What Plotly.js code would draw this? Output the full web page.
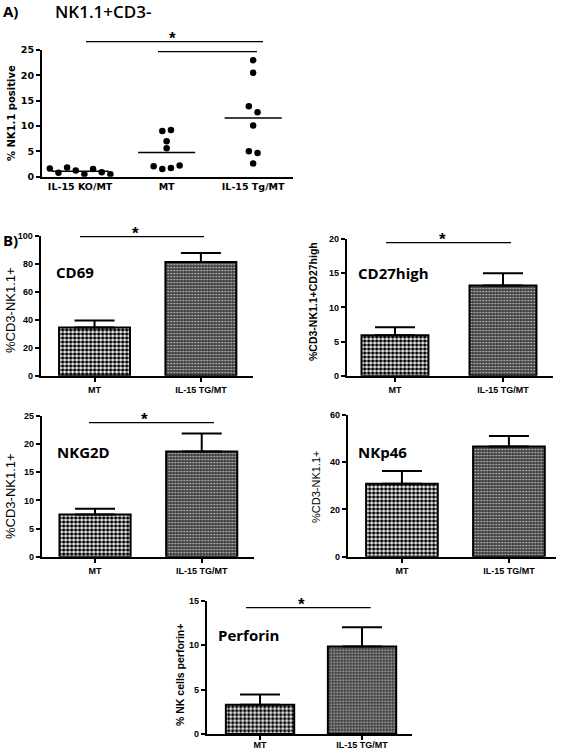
<!DOCTYPE html>
<html><head><meta charset="utf-8">
<script src="https://cdn.plot.ly/plotly-3.0.1.min.js"></script>
<style>html,body{margin:0;padding:0;background:#fff}</style>
</head><body><div id="chart" style="width:564px;height:753px"></div>
<script>
// ---------- DATA ----------
const groupsA = ['IL-15 KO/MT', 'MT', 'IL-15 Tg/MT'];
const koValues = [1.6, 0.8, 1.8, 1.2, 0.5, 1.5, 0.9, 0.5];
const mtValues = [9.0, 9.2, 7.0, 5.6, 2.05, 1.5, 1.7, 2.2];
const tgValues = [23.0, 20.5, 13.9, 12.7, 10.1, 5.0, 4.7, 2.6];

const barCats = ['MT', 'IL-15 TG/MT'];
const cd69Mean = [34.5, 81.4];
const cd69Err = [5.1, 6.4];
const cd27Mean = [5.9, 13.2];
const cd27Err = [1.2, 1.8];
const nkg2dMean = [7.5, 18.7];
const nkg2dErr = [1.0, 3.2];
const nkp46Mean = [30.9, 46.7];
const nkp46Err = [5.4, 4.4];
const perfMean = [3.3, 9.85];
const perfErr = [1.15, 2.15];

// ---------- HELPERS ----------
const W = 564, H = 753;
const px = x => x / W;
const py = y => 1 - y / H;

// GraphPad-like column scatter spread: cluster close values, spread horizontally
function spread(values, center, thr, step) {
  const idx = values.map((v, i) => i).sort((a, b) => values[a] - values[b]);
  const clusters = [];
  let cur = [idx[0]];
  for (let k = 1; k < idx.length; k++) {
    if (values[idx[k]] - values[idx[k - 1]] < thr) cur.push(idx[k]);
    else { clusters.push(cur); cur = [idx[k]]; }
  }
  clusters.push(cur);
  const xs = new Array(values.length);
  clusters.forEach(c => {
    const ord = c.slice().sort((a, b) => a - b);
    ord.forEach((i, j) => { xs[i] = center + (j - (ord.length - 1) / 2) * step; });
  });
  return xs;
}
const mean = a => a.reduce((s, v) => s + v, 0) / a.length;

const traces = [];
const colsA = [koValues, mtValues, tgValues];
colsA.forEach((vals, g) => {
  traces.push({
    type: 'scatter', mode: 'markers', xaxis: 'x', yaxis: 'y',
    x: spread(vals, g, 1.3, 0.1), y: vals,
    marker: {color: '#000', size: 6.5}, hoverinfo: 'skip'
  });
  const m = mean(vals);
  traces.push({
    type: 'scatter', mode: 'lines', xaxis: 'x', yaxis: 'y',
    x: [g - 0.33, g + 0.33], y: [m, m],
    line: {color: '#000', width: 1.5}, hoverinfo: 'skip'
  });
});

const patMT = {shape: '.', fgcolor: '#000', bgcolor: '#fff', size: 4, solidity: 0.6};
const patTG = {shape: '.', fgcolor: '#c8c8c8', bgcolor: '#444', size: 3, solidity: 0.25};

function barPanel(means, errs, n, widthU) {
  [0, 1].forEach(i => {
    traces.push({
      type: 'bar', xaxis: 'x' + n, yaxis: 'y' + n,
      x: [i], y: [means[i]], width: widthU,
      marker: {color: i === 0 ? '#fff' : '#444', pattern: i === 0 ? patMT : patTG,
               line: {color: '#000', width: 2}},
      error_y: {type: 'data', symmetric: false, array: [errs[i]], arrayminus: [0],
                color: '#000', thickness: 2, width: 20},
      hoverinfo: 'skip'
    });
  });
}
barPanel(cd69Mean, cd69Err, 2, 0.667);
barPanel(cd27Mean, cd27Err, 3, 0.62);
barPanel(nkg2dMean, nkg2dErr, 4, 0.667);
barPanel(nkp46Mean, nkp46Err, 5, 0.67);
barPanel(perfMean, perfErr, 6, 0.67);

const tickFontB = {family: 'Liberation Sans, Arial, sans-serif', size: 9, color: '#000', weight: 'bold'};
const tickFontA = {family: 'DejaVu Sans, Liberation Sans, sans-serif', size: 9.5, color: '#000', weight: 'bold'};

function yAx(x0, yTop, yBot, range, dtick, xa, font) {
  return {domain: [py(yBot), py(yTop)], range: range, dtick: dtick, tick0: 0, anchor: xa,
          showgrid: false, zeroline: false, showline: true, linecolor: '#000', linewidth: 2,
          ticks: 'outside', ticklen: 4, tickwidth: 2, tickcolor: '#000', tickfont: font,
          fixedrange: true};
}
function xAx(x0, x1, range, cats, ya, font, showTicks, standoff) {
  return {domain: [px(x0), px(x1)], range: range, tickvals: cats.map((c, i) => i), ticktext: cats,
          anchor: ya, showgrid: false, zeroline: false, showline: true, linecolor: '#000', linewidth: 2,
          ticks: showTicks ? 'outside' : '', ticklen: 4, tickwidth: 2, tickcolor: '#000', tickfont: font,
          ticklabelstandoff: standoff || 0, fixedrange: true};
}

const layout = {
  width: W, height: H, margin: {l: 0, r: 0, t: 0, b: 0},
  paper_bgcolor: '#fff', plot_bgcolor: 'rgba(0,0,0,0)', showlegend: false, bargap: 0,
  xaxis: xAx(42, 293, [-0.44, 2.46], groupsA, 'y', tickFontA, false),
  yaxis: yAx(42, 50, 176.7, [0, 25], 5, 'x', tickFontA),
  xaxis2: xAx(40.7, 253, [-0.506, 1.49], barCats, 'y2', tickFontB, true),
  yaxis2: yAx(40.7, 236, 375.7, [0, 100], 20, 'x2', tickFontB),
  xaxis3: xAx(346.7, 553, [-0.447, 1.463], barCats, 'y3', tickFontB, true),
  yaxis3: yAx(346.7, 239, 375.7, [0, 20], 5, 'x3', tickFontB),
  xaxis4: xAx(41.7, 254, [-0.5, 1.49], barCats, 'y4', tickFontB, true),
  yaxis4: yAx(41.7, 416, 556.7, [0, 25], 5, 'x4', tickFontB),
  xaxis5: xAx(347.7, 556, [-0.507, 1.44], barCats, 'y5', tickFontB, true),
  yaxis5: yAx(347.7, 415, 556.7, [0, 60], 20, 'x5', tickFontB),
  xaxis6: xAx(206.7, 411.7, [-0.523, 1.487], barCats, 'y6', tickFontB, true, -3),
  yaxis6: yAx(206.7, 600.7, 734, [0, 15], 5, 'x6', tickFontB),
  shapes: [],
  annotations: []
};

// significance lines
const sig = [[86, 263, 41.7], [158, 257, 51.7], [80, 204, 236.7], [386, 511, 242.7], [89, 214, 422.7], [246, 370.7, 607.7]];
sig.forEach(s => layout.shapes.push({type: 'line', xref: 'paper', yref: 'paper',
  x0: px(s[0]), x1: px(s[1]), y0: py(s[2]), y1: py(s[2]), line: {color: '#000', width: 1.3}}));
const stars = [[172, 41.7], [135, 236.7], [442.7, 242.7], [144, 422.7], [301.7, 607.7]];
stars.forEach(s => layout.annotations.push({xref: 'paper', yref: 'paper', x: px(s[0]), y: py(s[1] - 3),
  text: '*', showarrow: false, xanchor: 'center', yanchor: 'middle',
  font: {family: 'Liberation Sans, Arial, sans-serif', size: 17, color: '#000', weight: 'bold'}}));

function txt(t, x, y, size, weight, opts) {
  layout.annotations.push(Object.assign({xref: 'paper', yref: 'paper', x: px(x), y: py(y), text: t,
    showarrow: false, xanchor: 'left', yanchor: 'middle',
    font: {family: 'Open Sans, Liberation Sans, sans-serif', size: size, color: '#000', weight: weight}}, opts || {}));
}
txt('A)', 1, 11, 15, 'bold');
txt('NK1.1+CD3-', 53, 12, 17, 600);
txt('B)', 1, 240, 15, 'bold');
txt('CD69', 54, 272, 15, 'bold');
txt('CD27high', 356, 273, 15, 'bold');
txt('NKG2D', 55, 452, 15, 'bold');
txt('NKp46', 356, 452, 15, 'bold');
txt('Perforin', 216, 635, 15, 'bold');

function ytitle(t, x, y, size, weight, fam) {
  layout.annotations.push({xref: 'paper', yref: 'paper', x: px(x), y: py(y), text: t, textangle: -90,
    showarrow: false, xanchor: 'center', yanchor: 'middle',
    font: {family: fam || 'Liberation Sans, Arial, sans-serif', size: size, color: '#000', weight: weight}});
}
ytitle('% NK1.1 positive', 12, 113, 10, 'bold', 'DejaVu Sans, sans-serif');
ytitle('%CD3-NK1.1+', 10, 310, 13, 'normal');
ytitle('%CD3-NK1.1+CD27high', 313, 302, 10.5, 'bold');
ytitle('%CD3-NK1.1+', 10, 496, 13, 'normal');
ytitle('%CD3-NK1.1+', 316, 487, 11, 'normal');
ytitle('% NK cells perforin+', 180, 675, 10.5, 'bold');

Plotly.newPlot('chart', traces, layout, {staticPlot: true, displayModeBar: false});
</script></body></html>
